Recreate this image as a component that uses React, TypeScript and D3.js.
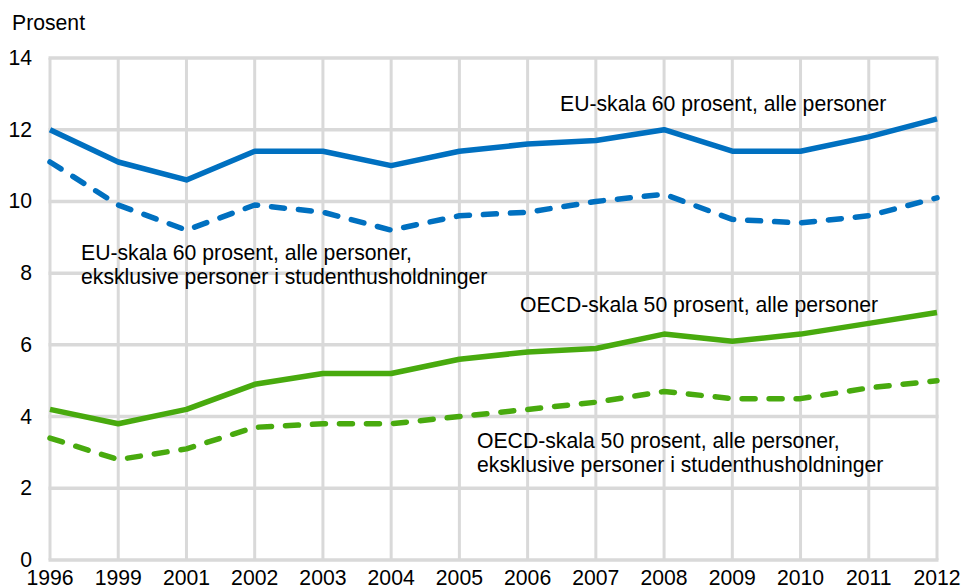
import React from "react";
import * as d3 from "d3";

const years = ["1996","1999","2001","2002","2003","2004","2005","2006","2007","2008","2009","2010","2011","2012"];
const euAll = [12.0, 11.1, 10.6, 11.4, 11.4, 11.0, 11.4, 11.6, 11.7, 12.0, 11.4, 11.4, 11.8, 12.3];
const euExcl = [11.1, 9.9, 9.2, 9.9, 9.7, 9.2, 9.6, 9.7, 10.0, 10.2, 9.5, 9.4, 9.6, 10.1];
const oecdAll = [4.2, 3.8, 4.2, 4.9, 5.2, 5.2, 5.6, 5.8, 5.9, 6.3, 6.1, 6.3, 6.6, 6.9];
const oecdExcl = [3.4, 2.8, 3.1, 3.7, 3.8, 3.8, 4.0, 4.2, 4.4, 4.7, 4.5, 4.5, 4.8, 5.0];
const yTicks = [0, 2, 4, 6, 8, 10, 12, 14];
const yTitle = "Prosent";

const series = [
  { name: "EU-skala 60 prosent, alle personer", values: euAll, color: "#0070c0", dashed: false },
  { name: "EU-skala 60 prosent, alle personer, eksklusive personer i studenthusholdninger", values: euExcl, color: "#0070c0", dashed: true },
  { name: "OECD-skala 50 prosent, alle personer", values: oecdAll, color: "#48aa0e", dashed: false },
  { name: "OECD-skala 50 prosent, alle personer, eksklusive personer i studenthusholdninger", values: oecdExcl, color: "#48aa0e", dashed: true },
];

const labels = [
  { lines: ["EU-skala 60 prosent, alle personer"], x: 560, y: 111 },
  { lines: ["EU-skala 60 prosent, alle personer,", "eksklusive personer i studenthusholdninger"], x: 81, y: 260 },
  { lines: ["OECD-skala 50 prosent, alle personer"], x: 520, y: 312 },
  { lines: ["OECD-skala 50 prosent, alle personer,", "eksklusive personer i studenthusholdninger"], x: 477, y: 448 },
];

const W = 962, H = 588;
const FONT = "'Liberation Sans', Arial, sans-serif";
const FS = 21.2;

export default function App() {
  const x = d3.scalePoint<string>().domain(years).range([50, 937]);
  const y = d3.scaleLinear().domain([0, 14]).range([560, 58]);
  const line = d3.line<number>().x((_, i) => x(years[i])!).y((d) => y(d));
  const grid = "#d9d9d9";
  return (
    <svg width={W} height={H} style={{ position: "absolute", left: 0, top: 0, background: "#fff" }} fontFamily={FONT}>
      <rect width={W} height={H} fill="#fff" />
      {years.map((yr) => (
        <line key={"v" + yr} x1={x(yr)} x2={x(yr)} y1={y(14)} y2={y(0)} stroke={grid} strokeWidth={3} />
      ))}
      {yTicks.map((t) => (
        <line key={"h" + t} x1={x(years[0])! - 1.5} x2={x(years[years.length - 1])! + 1.5} y1={y(t)} y2={y(t)} stroke={grid} strokeWidth={3.5} />
      ))}
      {yTicks.map((t) => (
        <text key={"yt" + t} x={32} y={y(t) + 7} textAnchor="end" fontSize={FS} fill="#000">{t}</text>
      ))}
      {years.map((yr) => (
        <text key={"xt" + yr} x={x(yr)} y={585} textAnchor="middle" fontSize={FS} fill="#000">{yr}</text>
      ))}
      <text x={12} y={30} fontSize={FS} fill="#000">{yTitle}</text>
      {series.map((s) => (
        <path key={s.name} d={line(s.values) || ""} fill="none" stroke={s.color} strokeWidth={5.5}
          strokeDasharray={s.dashed ? "13,14" : undefined} strokeLinecap={s.dashed ? "round" : "butt"} strokeLinejoin="round" />
      ))}
      {labels.map((l, i) => (
        <text key={"l" + i} x={l.x} y={l.y} fontSize={FS} fill="#000">
          {l.lines.map((ln, j) => (
            <tspan key={j} x={l.x} dy={j === 0 ? 0 : 24}>{ln}</tspan>
          ))}
        </text>
      ))}
    </svg>
  );
}
